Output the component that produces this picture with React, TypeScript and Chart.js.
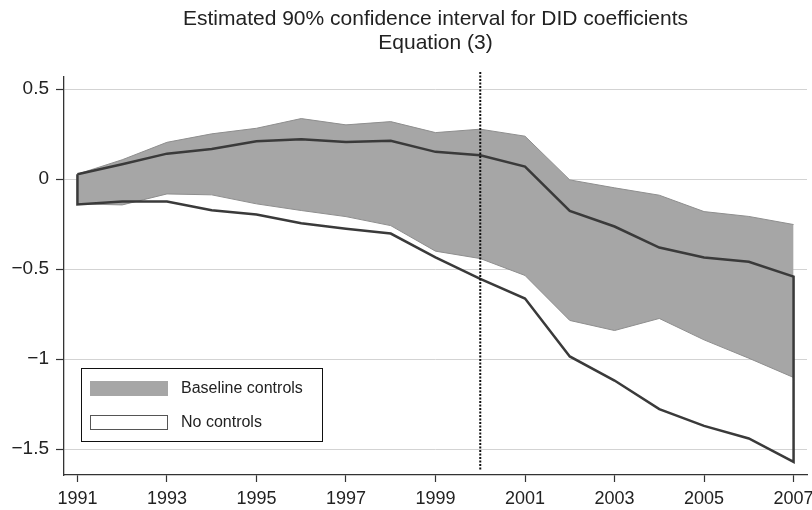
import React, { useEffect, useRef } from "react";
import { Chart, registerables } from "chart.js";

Chart.register(...registerables);

const years = [1991, 1992, 1993, 1994, 1995, 1996, 1997, 1998, 1999, 2000, 2001, 2002, 2003, 2004, 2005, 2006, 2007];
const baselineUpper = [0.028, 0.108, 0.205, 0.252, 0.283, 0.337, 0.302, 0.32, 0.259, 0.278, 0.239, -0.004, -0.048, -0.089, -0.18, -0.207, -0.252];
const baselineLower = [-0.137, -0.143, -0.082, -0.087, -0.137, -0.174, -0.208, -0.258, -0.4, -0.441, -0.535, -0.785, -0.841, -0.774, -0.893, -0.995, -1.102];
const noCtrlUpper = [0.028, 0.083, 0.142, 0.168, 0.211, 0.222, 0.207, 0.214, 0.152, 0.133, 0.07, -0.176, -0.263, -0.38, -0.435, -0.459, -0.541];
const noCtrlLower = [-0.14, -0.124, -0.124, -0.172, -0.196, -0.245, -0.276, -0.302, -0.434, -0.554, -0.663, -0.985, -1.119, -1.278, -1.371, -1.441, -1.571];

const titleLines = ["Estimated 90% confidence interval for DID coefficients", "Equation (3)"];
const xTickValues = [1991, 1993, 1995, 1997, 1999, 2001, 2003, 2005, 2007];
const yTickValues = [0.5, 0, -0.5, -1, -1.5];
const yTickLabels = ["0.5", "0", "\u22120.5", "\u22121", "\u22121.5"];
const policyYear = 2000;
const policyLineRange = [0.596, -1.615];
const legendLabels = ["Baseline controls", "No controls"];

const FONT = "'Liberation Sans', Arial, Helvetica, sans-serif";
const DARK = "#3a3a3a";
const GRAY_FILL = "#a6a6a6";
const GRAY_EDGE = "#8e8e8e";

export default function App() {
  const ref = useRef<HTMLCanvasElement>(null);

  useEffect(() => {
    if (!ref.current) return;
    const pts = (ys: number[]) => years.map((x, i) => ({ x, y: ys[i] }));
    const outline = [...pts(noCtrlUpper), ...pts(noCtrlLower).reverse()];
    outline.push(outline[0]);

    const legendPlugin = {
      id: "boxLegend",
      afterDraw(chart: any) {
        const { ctx, chartArea } = chart;
        const x0 = Math.round(chartArea.left + 17);
        const y0 = Math.round(chartArea.bottom - 107);
        const w = 241;
        const h = 73;
        ctx.save();
        ctx.fillStyle = "#ffffff";
        ctx.fillRect(x0, y0, w, h);
        ctx.strokeStyle = "#111111";
        ctx.lineWidth = 1;
        ctx.strokeRect(x0 + 0.5, y0 + 0.5, w, h);
        ctx.fillStyle = GRAY_FILL;
        ctx.fillRect(x0 + 9, y0 + 13, 78, 15);
        ctx.fillStyle = "#ffffff";
        ctx.fillRect(x0 + 9, y0 + 47, 78, 15);
        ctx.strokeStyle = "#555555";
        ctx.strokeRect(x0 + 9.5, y0 + 47.5, 77, 14);
        ctx.fillStyle = "#222222";
        ctx.font = `16px ${FONT}`;
        ctx.textBaseline = "middle";
        ctx.textAlign = "left";
        ctx.fillText(legendLabels[0], x0 + 100, y0 + 20.5);
        ctx.fillText(legendLabels[1], x0 + 100, y0 + 54.5);
        ctx.restore();
      },
    };

    const chart = new Chart(ref.current, {
      type: "line",
      data: {
        datasets: [
          {
            label: "policy",
            data: [
              { x: policyYear, y: policyLineRange[0] },
              { x: policyYear, y: policyLineRange[1] },
            ],
            borderColor: "#111111",
            borderWidth: 2,
            borderDash: [2, 1.5],
            pointRadius: 0,
            fill: false,
            clip: false as any,
          },
          {
            label: legendLabels[1],
            data: outline,
            borderColor: DARK,
            borderWidth: 2.5,
            borderJoinStyle: "miter",
            pointRadius: 0,
            fill: false,
            tension: 0,
          },
          {
            label: legendLabels[0],
            data: pts(baselineUpper),
            borderColor: GRAY_EDGE,
            borderWidth: 1,
            backgroundColor: GRAY_FILL,
            pointRadius: 0,
            fill: "+1",
            tension: 0,
          },
          {
            label: legendLabels[0] + " lower",
            data: pts(baselineLower),
            borderColor: GRAY_EDGE,
            borderWidth: 1,
            pointRadius: 0,
            fill: false,
            tension: 0,
          },
        ],
      },
      options: {
        animation: false,
        responsive: false,
        events: [],
        layout: { padding: { left: 0, right: 5, top: 0, bottom: 0 } },
        plugins: {
          legend: { display: false },
          tooltip: { enabled: false },
          filler: { drawTime: "beforeDatasetsDraw" } as any,
          title: {
            display: true,
            text: titleLines,
            fullSize: false,
            color: "#222222",
            font: { family: FONT, size: 21, weight: "normal", lineHeight: 1.15 },
            padding: { top: 7, bottom: 21.7 },
          },
        },
        scales: {
          x: {
            type: "linear",
            min: 1990.7,
            max: 2007.3,
            afterBuildTicks: (scale: any) => {
              scale.ticks = xTickValues.map((v) => ({ value: v }));
            },
            afterFit: (scale: any) => {
              scale.height = 35;
              scale.paddingLeft = 0;
              scale.paddingRight = 0;
            },
            ticks: {
              autoSkip: false,
              maxRotation: 0,
              padding: 6,
              color: "#222222",
              font: { family: FONT, size: 18 },
              callback: (v: any) => String(v),
            },
            grid: {
              display: true,
              drawOnChartArea: false,
              drawTicks: true,
              tickLength: 7,
              tickColor: "#333333",
              tickWidth: 1.2,
            },
            border: { display: true, color: "#333333", width: 1.3 },
          },
          y: {
            type: "linear",
            min: -1.644,
            max: 0.568,
            afterBuildTicks: (scale: any) => {
              scale.ticks = yTickValues.map((v) => ({ value: v }));
            },
            afterFit: (scale: any) => {
              scale.width = 64;
              scale.paddingTop = 0;
              scale.paddingBottom = 0;
            },
            ticks: {
              autoSkip: false,
              padding: 7,
              color: "#222222",
              font: { family: FONT, size: 19 },
              callback: (v: any) => {
                const i = yTickValues.findIndex((t) => Math.abs(t - Number(v)) < 1e-9);
                return i >= 0 ? yTickLabels[i] : "";
              },
            },
            grid: {
              display: true,
              drawOnChartArea: true,
              color: "#d3d3d3",
              lineWidth: 1,
              tickLength: 8,
              tickColor: "#333333",
              tickWidth: 1.2,
            },
            border: { display: true, color: "#333333", width: 1.3 },
          },
        },
      },
      plugins: [legendPlugin],
    } as any);

    return () => chart.destroy();
  }, []);

  return (
    <div style={{ position: "absolute", left: 0, top: 0, width: 812, height: 510, background: "#ffffff" }}>
      <canvas ref={ref} width={812} height={510} style={{ display: "block", width: 812, height: 510 }} />
    </div>
  );
}
